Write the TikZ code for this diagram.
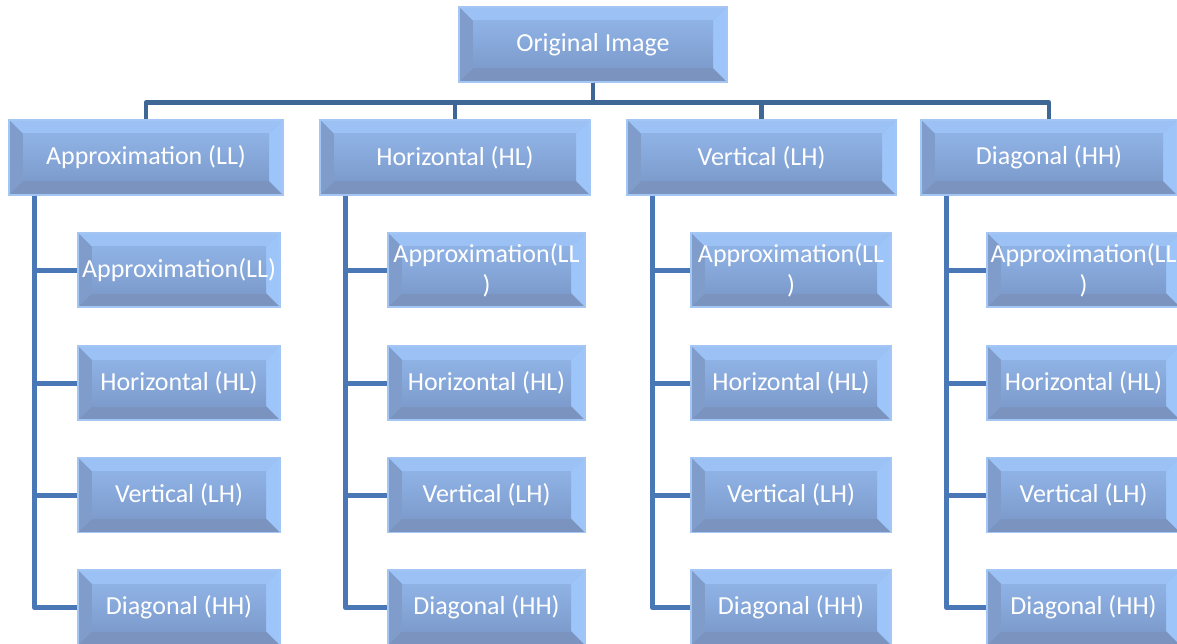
\documentclass[tikz,border=0pt]{standalone}
\usepackage{fontspec}
\setmainfont{Carlito}
\usetikzlibrary{calc}
\definecolor{bord}{HTML}{A3C6F4}
\definecolor{midtop}{HTML}{8FB2E5}
\definecolor{midbot}{HTML}{7D9CCD}
\definecolor{bvtop}{HTML}{9BC1F5}
\definecolor{bvleft}{HTML}{7F9CCA}
\definecolor{bvright}{HTML}{9DC5F9}
\definecolor{bvbot}{HTML}{7A94BF}
\definecolor{busc}{HTML}{3F6796}
\definecolor{brc}{HTML}{4A78B7}
\tikzset{
  bevelbox/.style 2 args={rectangle, minimum width=#1, minimum height=#2, inner sep=0pt,
    draw=bord, line width=1.5pt, text=white, font=\fontsize{26}{31}\selectfont, align=center,
    path picture={
      \coordinate (nw) at (path picture bounding box.north west);
      \coordinate (ne) at (path picture bounding box.north east);
      \coordinate (sw) at (path picture bounding box.south west);
      \coordinate (se) at (path picture bounding box.south east);
      \shade[top color=midtop, bottom color=midbot] (nw) rectangle (se);
      \fill[bvtop] (nw) -- (ne) -- ($(ne)+(-14,-14)$) -- ($(nw)+(14,-14)$) -- cycle;
      \fill[bvbot] (sw) -- (se) -- ($(se)+(-14,14)$) -- ($(sw)+(14,14)$) -- cycle;
      \fill[bvleft] (nw) -- ($(nw)+(14,-14)$) -- ($(sw)+(14,14)$) -- (sw) -- cycle;
      \fill[bvright] (ne) -- ($(ne)+(-14,-14)$) -- ($(se)+(-14,14)$) -- (se) -- cycle;
      \shade[top color=midtop, bottom color=midbot] ($(nw)+(14,-14)$) rectangle ($(se)+(-14,14)$);
    }},
  busline/.style={draw=busc, line width=4.5pt, line join=round},
  brline/.style={draw=brc, line width=5pt, line join=round},
}
\begin{document}
\begin{tikzpicture}[x=1pt,y=1pt]
\useasboundingbox (0,0) rectangle (1177,-644);
\clip (0,0) rectangle (1177,-644);
% root
\node[bevelbox={268}{75}] (top) at (593,-44.5) {Original Image};
% level 1
\node[bevelbox={274}{75}] (la) at (146,-157.5) {Approximation (LL)};
\node[bevelbox={270}{75}] (lb) at (455,-157.5) {Horizontal (HL)};
\node[bevelbox={269}{75}] (lc) at (761.5,-157.5) {Vertical (LH)};
\node[bevelbox={256}{75}] (ld) at (1049,-157.5) {Diagonal (HH)};
% level 2, column 1
\node[bevelbox={202}{74}] (la1) at (179,-270) {Approximation(LL)};
\node[bevelbox={202}{74}] (la2) at (179,-383) {Horizontal (HL)};
\node[bevelbox={202}{75}] (la3) at (179,-495) {Vertical (LH)};
\node[bevelbox={202}{75}] (la4) at (179,-607.5) {Diagonal (HH)};
% column 2
\node[bevelbox={197}{74}] (lb1) at (486.5,-270) {Approximation(LL\\)};
\node[bevelbox={197}{74}] (lb2) at (486.5,-383) {Horizontal (HL)};
\node[bevelbox={197}{75}] (lb3) at (486.5,-495) {Vertical (LH)};
\node[bevelbox={197}{75}] (lb4) at (486.5,-607.5) {Diagonal (HH)};
% column 3
\node[bevelbox={200}{74}] (lc1) at (791,-270) {Approximation(LL\\)};
\node[bevelbox={200}{74}] (lc2) at (791,-383) {Horizontal (HL)};
\node[bevelbox={200}{75}] (lc3) at (791,-495) {Vertical (LH)};
\node[bevelbox={200}{75}] (lc4) at (791,-607.5) {Diagonal (HH)};
% column 4
\node[bevelbox={193}{74}] (ld1) at (1083.5,-270) {Approximation(LL\\)};
\node[bevelbox={193}{74}] (ld2) at (1083.5,-383) {Horizontal (HL)};
\node[bevelbox={193}{75}] (ld3) at (1083.5,-495) {Vertical (LH)};
\node[bevelbox={193}{75}] (ld4) at (1083.5,-607.5) {Diagonal (HH)};
% bus connectors
\foreach \c in {la,lb,lc,ld}{
  \draw[busline] (top.south) -- ++(0,-20) -| (\c.north);
}
% branch connectors
\foreach \c in {la,lb,lc,ld}{
  \foreach \r in {1,2,3,4}{
    \draw[brline] ($(\c.south west)+(26,0)$) |- (\c\r.west);
  }
}
\end{tikzpicture}
\end{document}
